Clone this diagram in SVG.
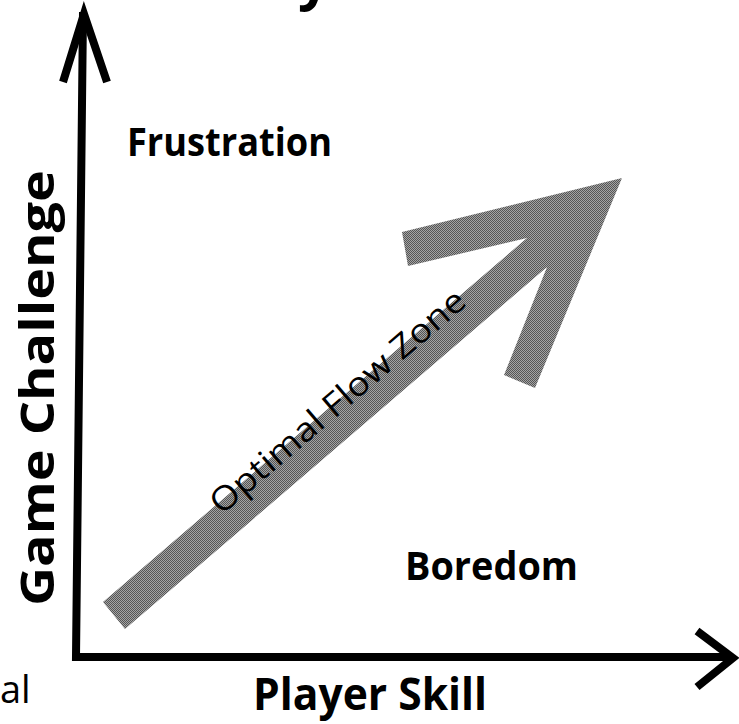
<svg xmlns="http://www.w3.org/2000/svg" width="739" height="724" viewBox="0 0 739 724">
  <style>
    .lbl { font-family: "Open Sans", "Liberation Sans", sans-serif; font-weight: 700; fill: #000; }
    .axis { stroke: #000; stroke-width: 8; fill: none; stroke-linecap: butt; stroke-linejoin: miter; }
    .zone { font-family: "Open Sans", "Liberation Sans", sans-serif; font-weight: 400; fill: #000; }
  </style>
  <defs>
    <pattern id="checker" width="2" height="2" patternUnits="userSpaceOnUse">
      <rect width="2" height="2" fill="#a4a4a4"/>
      <rect width="1" height="1" fill="#555"/>
      <rect x="1" y="1" width="1" height="1" fill="#555"/>
    </pattern>
  </defs>
  <rect width="739" height="724" fill="#fff"/>

  <g id="title-fragment">
    <text class="lbl" x="298" y="-1" font-size="56">y</text>
  </g>
  <g id="caption-fragment">
    <text x="0" y="703" font-family="Open Sans, Liberation Sans, sans-serif" font-size="38" fill="#000">al</text>
  </g>

  <g id="connectors">
    <path class="axis" d="M83 12 L76 657 L733 657"/>
    <path class="axis" d="M63 82 L84 14 L107 82"/>
    <path class="axis" d="M697 631 L733 658 L697 687"/>
  </g>

  <g id="flow-arrow">
    <polygon fill="url(#checker)" points="103,602 527,238 408,266 402,232 622,178 535,388 504,375 547,267 125,629"/>
    <text class="zone" transform="translate(345,410) rotate(-40.6)" text-anchor="middle" font-size="33" textLength="325" lengthAdjust="spacingAndGlyphs">Optimal Flow Zone</text>
  </g>

  <g id="frustration">
    <text class="lbl" x="127" y="156" font-size="39" textLength="205" lengthAdjust="spacingAndGlyphs">Frustration</text>
  </g>
  <g id="boredom">
    <text class="lbl" x="405" y="580" font-size="39" textLength="173" lengthAdjust="spacingAndGlyphs">Boredom</text>
  </g>
  <g id="x-label">
    <text class="lbl" x="253" y="710" font-size="44" textLength="234" lengthAdjust="spacingAndGlyphs">Player Skill</text>
  </g>
  <g id="y-label">
    <text class="lbl" transform="translate(54,606) rotate(-90)" font-size="46" textLength="436" lengthAdjust="spacingAndGlyphs">Game Challenge</text>
  </g>
</svg>
